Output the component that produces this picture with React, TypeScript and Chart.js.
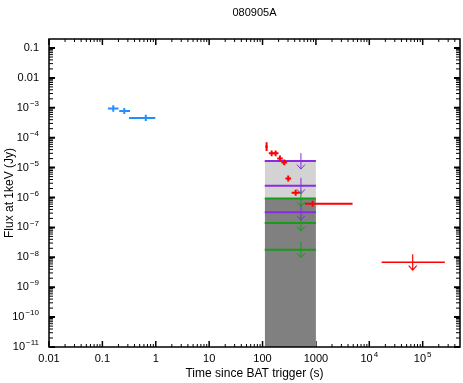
import React, { useEffect, useRef } from "react";
import { Chart, registerables } from "chart.js";

Chart.register(...registerables);

// ---------- data ----------
const chartTitle = "080905A";
const xTitle = "Time since BAT trigger (s)";
const yTitle = "Flux at 1keV (Jy)";

const xMin = 0.01;
const xMax = 5e5;
const yMin = 1e-11;
const yMax = 0.2;

const xTickValues = [0.01, 0.1, 1, 10, 100, 1000, 1e4, 1e5];
const xTickLabels = ["0.01", "0.1", "1", "10", "100", "1000", "10^4", "10^5"];
const yTickValues = [0.1, 0.01, 1e-3, 1e-4, 1e-5, 1e-6, 1e-7, 1e-8, 1e-9, 1e-10, 1e-11];
const yTickLabels = ["0.1", "0.01", "10^-3", "10^-4", "10^-5", "10^-6", "10^-7", "10^-8", "10^-9", "10^-10", "10^-11"];

// BAT (blue)
const batT = [0.16, 0.257, 0.65];
const batTLo = [0.127, 0.207, 0.315];
const batTHi = [0.2, 0.33, 0.98];
const batF = [9.5e-4, 7.8e-4, 4.6e-4];
const batFLo = [7.4e-4, 6.2e-4, 3.6e-4];
const batFHi = [1.22e-3, 9.8e-4, 5.9e-4];

// XRT (red)
const xrtT = [119, 148, 176, 212, 255, 303, 417, 867];
const xrtTLo = [112, 131, 156, 188, 226, 268, 351, 622];
const xrtTHi = [126, 167, 199, 240, 288, 342, 501, 4860];
const xrtF = [4.97e-5, 3.0e-5, 3.0e-5, 2.03e-5, 1.49e-5, 4.3e-6, 1.43e-6, 6.2e-7];
const xrtFLo = [3.56e-5, 2.4e-5, 2.4e-5, 1.62e-5, 1.19e-5, 3.4e-6, 1.14e-6, 4.9e-7];
const xrtFHi = [7.0e-5, 3.75e-5, 3.75e-5, 2.55e-5, 1.87e-5, 5.4e-6, 1.8e-6, 7.8e-7];

// XRT upper limit (red)
const xrtUlT = [6.5e4];
const xrtUlTLo = [1.7e4];
const xrtUlTHi = [2.6e5];
const xrtUlF = [6.86e-9];

// upper limits over an interval
const limStart = 110;
const limEnd = 1000;
const limArrowT = 524;
const purpleLimits = [1.65e-5, 2.45e-6, 3.2e-7];
const greenLimits = [9.3e-7, 1.4e-7, 1.8e-8];
const lightBoxTop = 1.65e-5;
const darkBoxTop = 9.3e-7;

// ---------- styles ----------
const BLUE = "#1e90ff";
const RED = "#ff0000";
const PURPLE = "#8a2be2";
const GREEN = "#1a9a1a";
const LIGHT = "#d3d3d3";
const DARK = "#808080";
const FONT = '"Liberation Sans", Arial, sans-serif';

function drawSupLabel(ctx: CanvasRenderingContext2D, text: string, x: number, y: number, align: "center" | "right") {
  const parts = text.split("^");
  const base = parts[0];
  const exp = parts[1] ? parts[1].replace("-", "\u2212") : "";
  ctx.font = `11px ${FONT}`;
  const bw = ctx.measureText(base).width;
  let ew = 0;
  if (exp) {
    ctx.font = `8px ${FONT}`;
    ew = ctx.measureText(exp).width + 1;
  }
  const total = bw + ew;
  const x0 = align === "center" ? x - total / 2 : x - total;
  ctx.textAlign = "left";
  ctx.textBaseline = "middle";
  ctx.fillStyle = "#000";
  ctx.font = `11px ${FONT}`;
  ctx.fillText(base, x0, y);
  if (exp) {
    ctx.font = `8px ${FONT}`;
    ctx.fillText(exp, x0 + bw + 1, y - 4);
  }
}

function minorValues(min: number, max: number): number[] {
  const out: number[] = [];
  const k0 = Math.floor(Math.log10(min));
  const k1 = Math.ceil(Math.log10(max));
  for (let k = k0; k <= k1; k++) {
    for (let m = 2; m <= 9; m++) {
      const v = m * Math.pow(10, k);
      if (v > min && v < max) out.push(v);
    }
  }
  return out;
}

const overlayPlugin = {
  id: "overlay",
  beforeDatasetsDraw(chart: any) {
    const ctx: CanvasRenderingContext2D = chart.ctx;
    const xs = chart.scales.x;
    const ys = chart.scales.y;
    const { left, right, top, bottom } = chart.chartArea;
    ctx.save();
    ctx.strokeStyle = "#000";
    const drawX = (v: number, len: number, w: number) => {
      const px = xs.getPixelForValue(v);
      ctx.lineWidth = w;
      ctx.beginPath();
      ctx.moveTo(px, bottom);
      ctx.lineTo(px, bottom - len);
      ctx.moveTo(px, top);
      ctx.lineTo(px, top + len);
      ctx.stroke();
    };
    const drawY = (v: number, len: number, w: number) => {
      const py = ys.getPixelForValue(v);
      ctx.lineWidth = w;
      ctx.beginPath();
      ctx.moveTo(left, py);
      ctx.lineTo(left + len, py);
      ctx.moveTo(right, py);
      ctx.lineTo(right - len, py);
      ctx.stroke();
    };
    minorValues(xMin, xMax).forEach((v) => drawX(v, 3, 1));
    xTickValues.forEach((v) => drawX(v, 6, 1.5));
    minorValues(yMin, yMax).forEach((v) => drawY(v, 4, 1));
    yTickValues.forEach((v) => drawY(v, 6, 2));
    ctx.restore();
  },
  afterDatasetsDraw(chart: any) {
    const ctx: CanvasRenderingContext2D = chart.ctx;
    const xs = chart.scales.x;
    const ys = chart.scales.y;
    const { left, right, top, bottom } = chart.chartArea;
    const X = (v: number) => xs.getPixelForValue(v);
    const Y = (v: number) => ys.getPixelForValue(v);
    ctx.save();
    ctx.beginPath();
    ctx.rect(left, top, right - left, bottom - top);
    ctx.clip();

    const arrow = (t: number, f: number, color: string, w: number) => {
      const px = X(t);
      const py = Y(f);
      ctx.strokeStyle = color;
      ctx.lineWidth = w;
      ctx.beginPath();
      ctx.moveTo(px, py - 8);
      ctx.lineTo(px, py + 8);
      ctx.moveTo(px - 4, py + 3.5);
      ctx.lineTo(px, py + 8);
      ctx.lineTo(px + 4, py + 3.5);
      ctx.stroke();
    };
    purpleLimits.forEach((f) => arrow(limArrowT, f, PURPLE, 1));
    greenLimits.forEach((f) => arrow(limArrowT, f, GREEN, 1));

    const cross = (t: number, tLo: number, tHi: number, f: number, fLo: number, fHi: number, color: string) => {
      ctx.strokeStyle = color;
      ctx.lineWidth = 2;
      ctx.beginPath();
      ctx.moveTo(X(tLo), Y(f));
      ctx.lineTo(X(tHi), Y(f));
      ctx.moveTo(X(t), Y(fLo));
      ctx.lineTo(X(t), Y(fHi));
      ctx.stroke();
    };
    xrtT.forEach((t, i) => cross(t, xrtTLo[i], xrtTHi[i], xrtF[i], xrtFLo[i], xrtFHi[i], RED));
    xrtUlT.forEach((t, i) => {
      ctx.strokeStyle = RED;
      ctx.lineWidth = 1.5;
      ctx.beginPath();
      ctx.moveTo(X(xrtUlTLo[i]), Y(xrtUlF[i]));
      ctx.lineTo(X(xrtUlTHi[i]), Y(xrtUlF[i]));
      ctx.stroke();
      arrow(t, xrtUlF[i], RED, 1.2);
    });
    batT.forEach((t, i) => cross(t, batTLo[i], batTHi[i], batF[i], batFLo[i], batFHi[i], BLUE));
    ctx.restore();

    // frame
    ctx.save();
    ctx.strokeStyle = "#000";
    ctx.lineWidth = 1.5;
    ctx.strokeRect(left, top, right - left, bottom - top);

    // tick labels
    xTickValues.forEach((v, i) => drawSupLabel(ctx, xTickLabels[i], X(v), bottom + 12, "center"));
    yTickValues.forEach((v, i) => drawSupLabel(ctx, yTickLabels[i], left - 10, Y(v), "right"));

    // titles
    ctx.fillStyle = "#000";
    ctx.textAlign = "center";
    ctx.textBaseline = "middle";
    ctx.font = `11px ${FONT}`;
    ctx.fillText(chartTitle, (left + right) / 2, 13);
    ctx.font = `12px ${FONT}`;
    ctx.fillText(xTitle, (left + right) / 2, 374);
    ctx.save();
    ctx.translate(10, (top + bottom) / 2);
    ctx.rotate(-Math.PI / 2);
    ctx.fillText(yTitle, 0, 0);
    ctx.restore();
    ctx.restore();
  },
};

export default function App() {
  const ref = useRef<HTMLCanvasElement | null>(null);
  useEffect(() => {
    if (!ref.current) return;
    const hline = (f: number, color: string, order: number) => ({
      type: "scatter" as const,
      data: [
        { x: limStart, y: f },
        { x: limEnd, y: f },
      ],
      showLine: true,
      borderColor: color,
      borderWidth: 2,
      pointRadius: 0,
      fill: false,
      order,
    });
    const chart = new Chart(ref.current, {
      type: "scatter",
      data: {
        datasets: [
          {
            type: "scatter",
            data: [
              { x: limStart, y: lightBoxTop },
              { x: limEnd, y: lightBoxTop },
            ],
            showLine: true,
            borderWidth: 0,
            borderColor: "rgba(0,0,0,0)",
            backgroundColor: LIGHT,
            pointRadius: 0,
            fill: "start",
            order: 20,
          },
          {
            type: "scatter",
            data: [
              { x: limStart, y: darkBoxTop },
              { x: limEnd, y: darkBoxTop },
            ],
            showLine: true,
            borderWidth: 0,
            borderColor: "rgba(0,0,0,0)",
            backgroundColor: DARK,
            pointRadius: 0,
            fill: "start",
            order: 19,
          },
          ...purpleLimits.map((f) => hline(f, PURPLE, 5)),
          ...greenLimits.map((f) => hline(f, GREEN, 5)),
        ] as any,
      },
      options: {
        animation: false,
        responsive: false,
        devicePixelRatio: 1,
        layout: { padding: { left: 49, right: 3, top: 39, bottom: 36 } },
        plugins: {
          legend: { display: false },
          tooltip: { enabled: false },
          title: { display: false },
        },
        scales: {
          x: { type: "logarithmic", min: xMin, max: xMax, display: false },
          y: { type: "logarithmic", min: yMin, max: yMax, display: false },
        },
      } as any,
      plugins: [overlayPlugin],
    });
    return () => chart.destroy();
  }, []);
  return (
    <div style={{ position: "fixed", left: 0, top: 0, width: 463, height: 383, background: "#fff" }}>
      <canvas ref={ref} width={463} height={383} style={{ display: "block" }} />
    </div>
  );
}
